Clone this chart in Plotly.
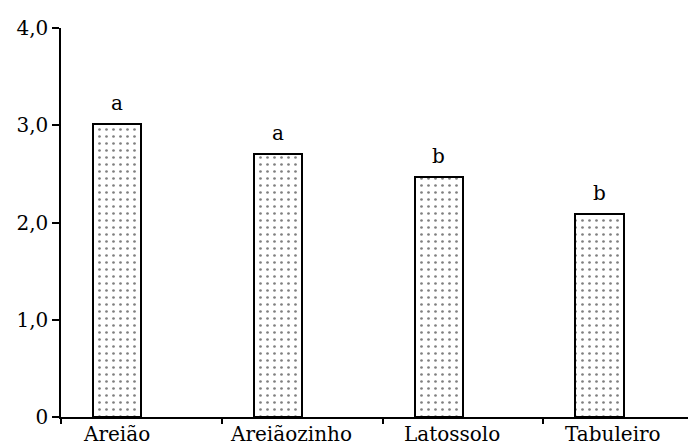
import plotly.graph_objects as go

categories = ["Areião", "Areiãozinho", "Latossolo", "Tabuleiro"]
values = [3.01, 2.70, 2.47, 2.09]
letters = ["a", "a", "b", "b"]
y_tickvals = [0, 1, 2, 3, 4]
y_ticktext = ["0", "1,0", "2,0", "3,0", "4,0"]

FONT = "DejaVu Serif"
FS = 20
xpos = list(range(len(categories)))

fig = go.Figure()
fig.add_trace(go.Bar(
    x=xpos, y=values, width=0.30,
    marker=dict(color="white",
                line=dict(color="black", width=2),
                pattern=dict(shape=".", fgcolor="#000000", bgcolor="white",
                             size=7, solidity=0.12)),
    hoverinfo="skip", showlegend=False,
))

# letters above bars
for xi, v, t in zip(xpos, values, letters):
    fig.add_annotation(x=xi, y=v, text=t, showarrow=False, yanchor="bottom",
                       yshift=7, font=dict(family=FONT, size=FS, color="black"))

# category labels
label_shift = [-1, 13, 13, 13]
for xi, c, s in zip(xpos, categories, label_shift):
    fig.add_annotation(x=xi, y=0, yref="paper", text=c, showarrow=False,
                       yanchor="top", yshift=-3, xshift=s,
                       font=dict(family=FONT, size=FS, color="black"))

fig.update_layout(
    width=696, height=445,
    margin=dict(l=46, r=8, t=17, b=36),
    plot_bgcolor="white", paper_bgcolor="white",
    bargap=0,
)
fig.update_xaxes(
    range=[-0.35, 3.60], showgrid=False, zeroline=False,
    showline=True, linecolor="black", linewidth=1.5,
    ticks="outside", ticklen=5, tickcolor="black", tickwidth=1.5,
    tickvals=[-0.35, 0.65, 1.65, 2.65], ticktext=["", "", "", ""],
)
fig.update_yaxes(
    range=[0, 4.0], showgrid=False, zeroline=False,
    showline=True, linecolor="black", linewidth=1.5,
    ticks="outside", ticklen=7, tickcolor="black", tickwidth=1.5,
    tickvals=y_tickvals, ticktext=y_ticktext,
    tickfont=dict(family=FONT, size=FS, color="black"),
)

fig.write_html("out.html")
